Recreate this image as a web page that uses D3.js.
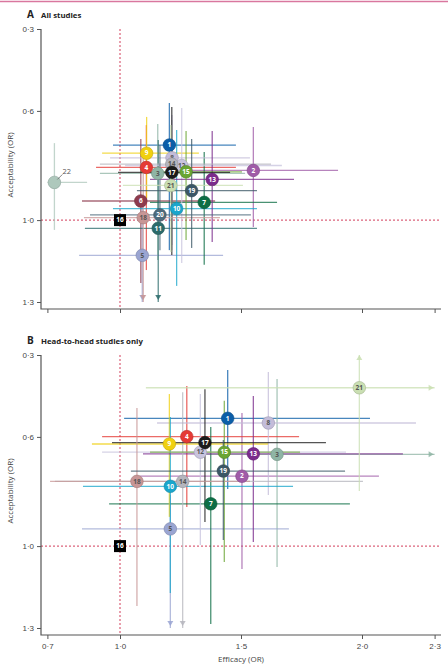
<!DOCTYPE html>
<html lang="en">
	<head>
		<title>Efficacy vs acceptability</title>
		<meta charset="utf-8">
		<style>
			body {
				margin: 0;
				background: #fff;
				font-family: "Open Sans", "DejaVu Sans", sans-serif;
			}
			.tick text {
				fill: #444;
				font-size: 8px;
			}
			.tick line {
				stroke: #555;
			}
		</style>
	</head>

	<body>

		<div class="graph"></div>

		<script src="https://d3js.org/d3.v7.min.js"></script>

		<script>

		// Panel A - all studies
		var treatA = [1, 2, 3, 4, 5, 6, 7, 8, 9, 10, 11, 12, 13, 14, 15, 16, 17, 18, 19, 20, 21, 22];
		var effA   = [1.204, 1.551, 1.156, 1.109, 1.092, 1.086, 1.348, 1.215, 1.110, 1.234, 1.158, 1.255, 1.381, 1.214, 1.273, 1.0, 1.214, 1.096, 1.296, 1.165, 1.210, 0.729];
		var effLoA = [0.971, 1.227, 0.917, 0.901, 0.831, 0.843, 1.124, 0.959, 0.926, 0.971, 0.855, 1.021, 1.124, 0.917, 1.083, null, 0.992, 0.851, 1.070, 0.876, 1.012, 0.694];
		var effHiA = [1.479, 1.901, 1.517, 1.479, 1.426, 1.393, 1.649, 1.537, 1.326, 1.566, 1.566, 1.669, 1.719, 1.624, 1.504, null, 1.455, 1.413, 1.566, 1.541, 1.508, 0.864];
		var accA   = [0.725, 0.818, 0.829, 0.807, 1.129, 0.930, 0.935, 0.772, 0.755, 0.958, 1.030, 0.800, 0.851, 0.795, 0.823, 1.0, 0.825, 0.991, 0.892, 0.981, 0.873, 0.862];
		var accLoA = [0.571, 0.659, 0.648, 0.652, 0.926, 0.703, 0.751, 0.615, 0.622, 0.670, 0.707, 0.589, 0.674, 0.633, 0.674, null, 0.586, 0.743, 0.703, 0.725, 0.652, 0.718];
		var accHiA = [1.110, 1.025, 1.146, 1.183, 1.35, 1.230, 1.164, 1.091, 0.919, 1.241, 1.35, 1.157, 1.080, 1.110, 1.073, null, 1.128, 1.35, 1.102, 1.110, 1.117, 1.036];

		// Panel B - head-to-head studies only
		var treatB = [1, 2, 3, 4, 5, 7, 8, 9, 10, 12, 13, 14, 15, 16, 17, 18, 19, 21];
		var effB   = [1.445, 1.504, 1.649, 1.276, 1.208, 1.375, 1.613, 1.204, 1.208, 1.332, 1.551, 1.259, 1.431, 1.0, 1.351, 1.070, 1.427, 1.989];
		var effLoB = [1.017, 1.083, 1.331, 0.926, 0.843, 0.955, 1.153, 0.884, 0.847, 0.926, 1.095, 0.731, 1.124, null, 0.967, 0.711, 1.045, 1.107];
		var effHiB = [2.033, 2.070, 2.4, 1.740, 1.698, 1.950, 2.223, 1.612, 1.715, 1.934, 2.169, 2.004, 1.744, null, 1.851, 1.537, 1.930, 2.4];
		var accB   = [0.532, 0.744, 0.664, 0.599, 0.937, 0.845, 0.549, 0.626, 0.781, 0.656, 0.662, 0.763, 0.656, 1.0, 0.621, 0.763, 0.725, 0.420];
		var accLoB = [0.355, 0.512, 0.388, 0.414, 0.813, 0.564, 0.362, 0.443, 0.527, 0.443, 0.450, 0.436, 0.468, null, 0.425, 0.494, 0.611, 0.25];
		var accHiB = [0.791, 1.084, 1.077, 0.857, 1.35, 1.285, 0.813, 0.893, 1.172, 0.996, 0.985, 1.35, 1.058, null, 0.912, 1.219, 0.978, 0.798];

		var colors = ["#0b5ea8", "#a05ca8", "#8fb5a5", "#e53a35", "#9aa5d2", "#8e3b4e", "#0d6e45", "#c3bcd9", "#f0d010", "#1aa6cc", "#2b6b6b",
			"#c8c4de", "#7b2b8c", "#b5b5bd", "#6aa533", "#000000", "#1b1b1b", "#c89696", "#3b5766", "#4d6a7c", "#cadfb2", "#aec8bc"];
		var darkText = [3, 5, 8, 12, 14, 18, 21];

		var xTicks = [0.7, 1.0, 1.5, 2.0, 2.3];
		var yTicks = [0.3, 0.6, 1.0, 1.3];

		var width = 448, height = 667;
		var axisLeftX = 41, axisRightX = 441;
		var fmt = function(d) { return d.toFixed(1).replace(".", "\u00b7"); };

		var x = d3.scaleLinear().domain([0.7, 2.3]).range([47.4, 434.6]);

		var svg = d3.select(".graph").append("svg")
			.attr("width", width)
			.attr("height", height);

		// pink rule at top
		svg.append("line")
			.attr("x1", 0).attr("x2", width)
			.attr("y1", 1.5).attr("y2", 1.5)
			.style("stroke", "#d9779f")
			.style("stroke-width", 1.5);

		function drawPanel(cfg)
		{
			var y = d3.scaleLinear().domain([0.3, 1.3]).range([cfg.top, cfg.top + 273]);
			var bottom = cfg.top + 280;
			var g = svg.append("g");

			// title
			g.append("text")
				.attr("x", 27).attr("y", cfg.top - 11)
				.style("font-size", "10px").style("font-weight", "bold").style("fill", "#222")
				.text(cfg.letter);
			g.append("text")
				.attr("x", 41).attr("y", cfg.top - 11)
				.style("font-size", "7.8px").style("font-weight", "bold").style("fill", "#222")
				.text(cfg.title);

			// reference lines
			g.append("line")
				.attr("x1", x(1)).attr("x2", x(1))
				.attr("y1", cfg.top).attr("y2", bottom)
				.style("stroke", "#d23c5a").style("stroke-width", 1).style("stroke-dasharray", "2,2");
			g.append("line")
				.attr("x1", axisLeftX).attr("x2", axisRightX)
				.attr("y1", y(1)).attr("y2", y(1))
				.style("stroke", "#d23c5a").style("stroke-width", 1).style("stroke-dasharray", "2,2");

			// axes
			var ya = g.append("g")
				.attr("transform", "translate(" + axisLeftX + ",0)")
				.call(d3.axisLeft(y).tickValues(yTicks).tickFormat(fmt).tickSize(4).tickSizeOuter(0));
			ya.select(".domain").remove();
			var xa = g.append("g")
				.attr("transform", "translate(0," + bottom + ")")
				.call(d3.axisBottom(x).tickValues(xTicks).tickFormat(cfg.xLabels ? fmt : "").tickSize(4).tickSizeOuter(0));
			xa.select(".domain").remove();
			xa.selectAll(".tick text").attr("dy", "0.9em");

			g.append("path")
				.attr("d", "M" + axisLeftX + "," + y(0.3) + "V" + bottom + "H" + axisRightX)
				.style("fill", "none").style("stroke", "#555").style("stroke-width", 1.2);

			g.append("text")
				.attr("transform", "translate(13," + (cfg.top + 136) + ") rotate(-90)")
				.style("text-anchor", "middle").style("font-size", "8px").style("fill", "#444")
				.text("Acceptability (OR)");

			var cx = function(v) { return x(Math.max(0.7, Math.min(2.3, v))); };
			var cy = function(v) { return y(Math.max(0.3, Math.min(1.3, v))); };

			var lines = g.append("g");
			var marks = g.append("g");

			cfg.ids.forEach(function(id, i) {
				var col = colors[id - 1];
				if (cfg.effLo[i] == null) return;

				lines.append("line")
					.attr("x1", cx(cfg.effLo[i])).attr("x2", cx(cfg.effHi[i]))
					.attr("y1", y(cfg.acc[i])).attr("y2", y(cfg.acc[i]))
					.style("stroke", col).style("stroke-width", 1.3).style("opacity", 0.75);
				lines.append("line")
					.attr("x1", x(cfg.eff[i])).attr("x2", x(cfg.eff[i]))
					.attr("y1", cy(cfg.accLo[i])).attr("y2", cy(cfg.accHi[i]))
					.style("stroke", col).style("stroke-width", 1.3).style("opacity", 0.75);

				// arrows for intervals running off the scale
				var px = x(cfg.eff[i]), py = y(cfg.acc[i]);
				if (cfg.accHi[i] > 1.3) {
					var t = y(1.3) - 2;
					lines.append("path").attr("d", "M" + (px - 3) + "," + (t - 5) + "L" + (px + 3) + "," + (t - 5) + "L" + px + "," + t + "Z")
						.style("fill", col).style("opacity", 0.85);
				}
				if (cfg.accLo[i] < 0.3) {
					var t2 = y(0.3);
					lines.append("path").attr("d", "M" + (px - 3) + "," + (t2 + 5) + "L" + (px + 3) + "," + (t2 + 5) + "L" + px + "," + t2 + "Z")
						.style("fill", col).style("opacity", 0.85);
				}
				if (cfg.effHi[i] > 2.3) {
					var t3 = x(2.3) - 1;
					lines.append("path").attr("d", "M" + (t3 - 5) + "," + (py - 3) + "L" + (t3 - 5) + "," + (py + 3) + "L" + t3 + "," + py + "Z")
						.style("fill", col).style("opacity", 0.85);
				}
			});

			cfg.ids.forEach(function(id, i) {
				var col = colors[id - 1];
				var px = x(cfg.eff[i]), py = y(cfg.acc[i]);

				if (id == 16) {
					marks.append("rect")
						.attr("x", px - 6).attr("y", py - 6)
						.attr("width", 12).attr("height", 12)
						.style("fill", "#000");
				} else {
					marks.append("circle")
						.attr("cx", px).attr("cy", py).attr("r", 6.3)
						.style("fill", col)
						.style("stroke", d3.color(col).darker(0.6))
						.style("stroke-width", 0.6);
				}

				if (id == 22) {
					marks.append("line")
						.attr("x1", px + 3).attr("y1", py - 3)
						.attr("x2", px + 8).attr("y2", py - 8)
						.style("stroke", "#666").style("stroke-width", 0.8);
					marks.append("text")
						.attr("x", px + 8).attr("y", py - 8)
						.style("font-size", "7.5px").style("fill", "#555")
						.text(id);
					return;
				}

				marks.append("text")
					.attr("x", px).attr("y", py)
					.attr("dy", "0.35em")
					.style("text-anchor", "middle")
					.style("font-size", "6.5px")
					.style("font-weight", "bold")
					.style("fill", darkText.indexOf(id) >= 0 ? "#555" : "#fff")
					.text(id);
			});
		}

		drawPanel({letter: "A", title: "All studies", top: 29, xLabels: false,
			ids: treatA, eff: effA, effLo: effLoA, effHi: effHiA, acc: accA, accLo: accLoA, accHi: accHiA});

		drawPanel({letter: "B", title: "Head-to-head studies only", top: 355, xLabels: true,
			ids: treatB, eff: effB, effLo: effLoB, effHi: effHiB, acc: accB, accLo: accLoB, accHi: accHiB});

		svg.append("text")
			.attr("x", x(1.5)).attr("y", 662)
			.style("text-anchor", "middle").style("font-size", "8px").style("fill", "#444")
			.text("Efficacy (OR)");

		</script>

	</body>

</html>
